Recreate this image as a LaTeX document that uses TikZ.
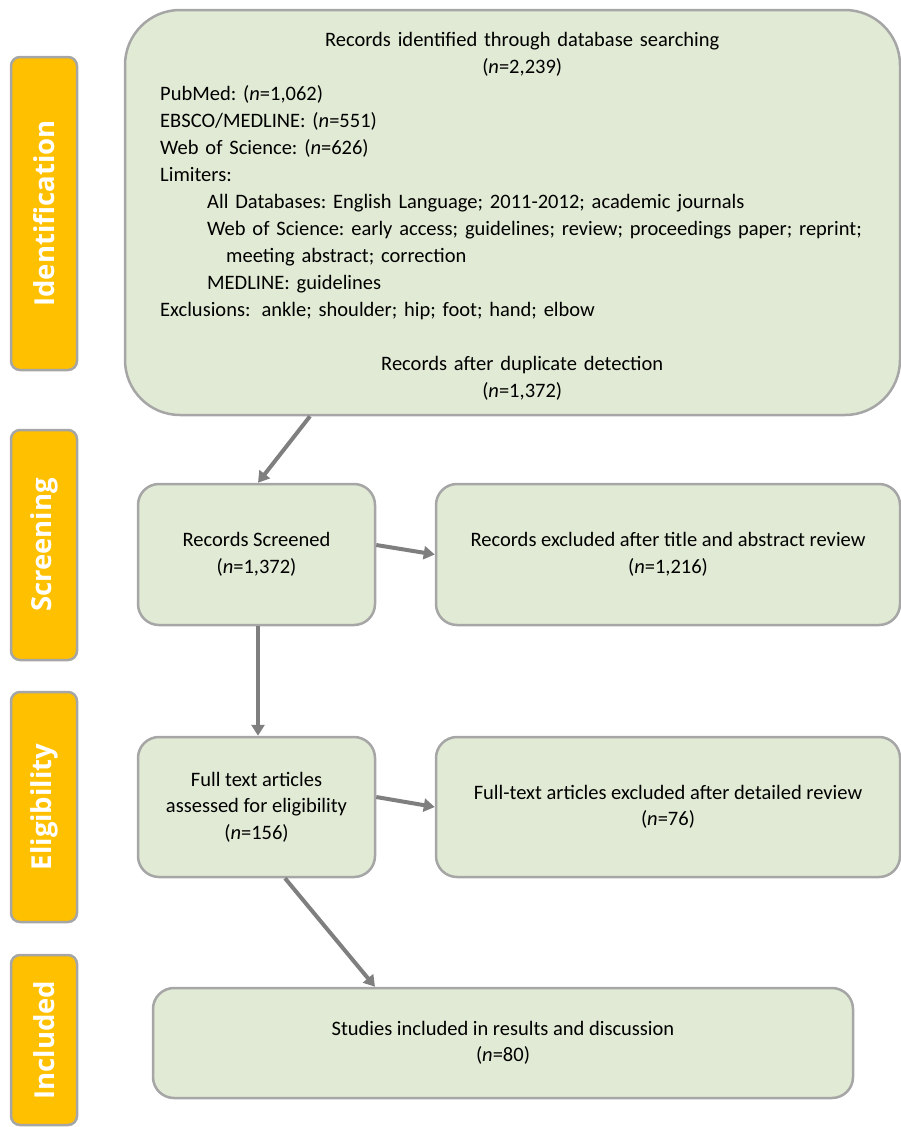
\documentclass[tikz,border=0pt]{standalone}
\usepackage{fontspec}
\setmainfont{Carlito}
\newfontfamily\phasefont{Open Sans}
\frenchspacing
\usetikzlibrary{arrows.meta}
\definecolor{boxgreen}{HTML}{E1EAD4}
\definecolor{boxline}{HTML}{A6A6A6}
\definecolor{phaseorange}{HTML}{FFC000}
\definecolor{arrowgray}{HTML}{7F7F7F}

\begin{document}
\begin{tikzpicture}[x=1pt,y=-1pt]
\tikzstyle{every node}+=[inner sep=0pt]
\tikzstyle{phase}=[draw=boxline, fill=phaseorange, line width=2.5pt, rounded corners=9pt, rotate=90, minimum height=66pt, text=white, font=\phasefont\bfseries\fontsize{27.5}{30}\selectfont]
\tikzstyle{stage}=[draw=boxline, fill=boxgreen, line width=2.5pt, rounded corners=21pt, align=center, font=\fontsize{20.5}{26.5}\selectfont]
\tikzstyle{arr}=[draw=arrowgray, line width=4pt, -{Triangle[length=11pt,width=13pt]}]
\useasboundingbox (0,0) rectangle (901,1127);
% phases on the left
\node [phase, minimum width=313pt] (pid) at (44,213.5) {Identification};
\node [phase, minimum width=230pt] (psc) at (44,545) {Screening};
\node [phase, minimum width=230pt] (pel) at (44,807) {Eligibility};
\node [phase, minimum width=170pt] (pin) at (44,1040) {Included};
% boxes
\node [stage, rounded corners=55pt, minimum width=775pt, minimum height=405pt] (ident) at (512.5,212.5) {};
\node [anchor=north west, text width=724pt, align=left, font=\fontsize{20.5}{27}\selectfont] (idtext) at (160,32.5) {%
{\centering Records identified through database searching\\(\textit{n}=2,239)\par}
PubMed: (\textit{n}=1,062)\\
EBSCO/MEDLINE: (\textit{n}=551)\\
Web of Science: (\textit{n}=626)\\
Limiters:\\
\hspace*{47pt}All Databases: English Language; 2011-2012; academic journals\\
\hspace*{47pt}Web of Science: early access; guidelines; review; proceedings paper; reprint;\\
\hspace*{66pt}meeting abstract; correction\\
\hspace*{47pt}MEDLINE: guidelines\\
Exclusions:\hspace{11pt}ankle; shoulder; hip; foot; hand; elbow\\
\mbox{}\par
{\centering Records after duplicate detection\\(\textit{n}=1,372)\par}};
\node [stage, minimum width=237pt, minimum height=141pt] (screen) at (256.5,554.5) {Records Screened\\(\textit{n}=1,372)};
\node [stage, minimum width=464pt, minimum height=141pt] (excl1) at (668,554.5) {Records excluded after title and abstract review\\(\textit{n}=1,216)};
\node [stage, minimum width=237pt, minimum height=140pt] (elig) at (256.5,807) {Full text articles\\assessed for eligibility\\(\textit{n}=156)};
\node [stage, minimum width=464pt, minimum height=140pt] (excl2) at (668,807) {Full-text articles excluded after detailed review\\(\textit{n}=76)};
\node [stage, minimum width=700pt, minimum height=110pt] (incl) at (503,1043) {Studies included in results and discussion\\(\textit{n}=80)};
% arrows
\draw [arr] ([xshift=-202.5pt]ident.south) -- ([xshift=1.5pt]screen.north);
\draw [arr] ([yshift=9.5pt]screen.east) -- (excl1.west);
\draw [arr] ([xshift=1.5pt]screen.south) -- ([xshift=1.5pt]elig.north);
\draw [arr] ([yshift=10pt]elig.east) -- (excl2.west);
\draw [arr] ([xshift=28.5pt]elig.south) -- ([xshift=-128pt]incl.north);
\end{tikzpicture}
\end{document}
